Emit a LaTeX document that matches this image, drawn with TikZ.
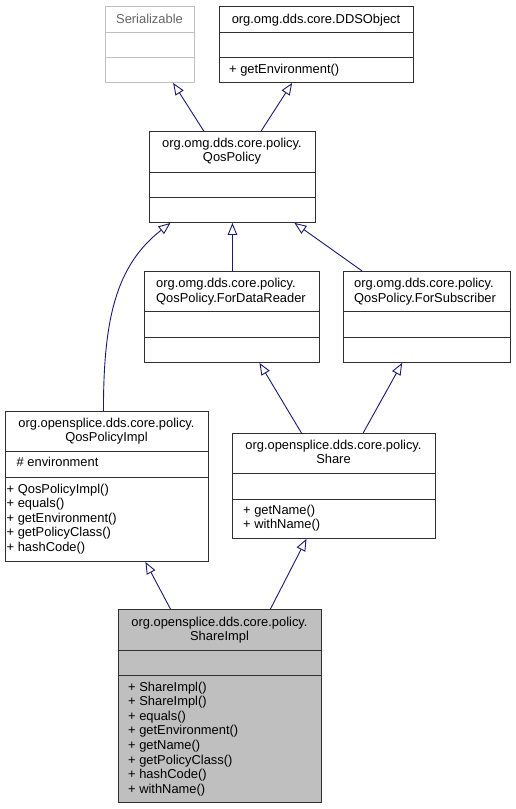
\documentclass[tikz,border=0pt]{standalone}
\usepackage{fontspec}
\setmainfont{Liberation Sans}
\usetikzlibrary{arrows.meta}
\definecolor{arrowblue}{HTML}{191970}
\definecolor{boxline}{HTML}{303030}
\definecolor{extline}{HTML}{BFBFBF}
\definecolor{exttext}{HTML}{666666}
\definecolor{focusfill}{HTML}{BFBFBF}
\newcommand{\dxfont}{\fontsize{12.9}{14.6}\selectfont}
\begin{document}
\begin{tikzpicture}[x=1pt,y=-1pt,
  box/.style={draw=boxline, line width=0.9pt, fill=white, inner sep=0pt, anchor=north west},
  extbox/.style={box, draw=extline},
  focus/.style={box, fill=focusfill},
  divider/.style={draw=boxline, line width=0.9pt},
  extdivider/.style={draw=extline, line width=0.9pt},
  txt/.style={inner sep=0pt, font=\dxfont, anchor=base},
  txl/.style={inner sep=0pt, font=\dxfont, anchor=base west},
  inh/.style={draw=arrowblue, line width=0.9pt, -{Triangle[open, length=12pt, width=9.5pt]}}
]
\fill[white] (0,0) rectangle (515,809);
\useasboundingbox (0,0) rectangle (515,809);

% ---------- Serializable ----------
\node[extbox, minimum width=89pt, minimum height=76pt] (ser) at (105,6) {};
\draw[extdivider] (ser.west |- 0,32) -- (ser.east |- 0,32);
\draw[extdivider] (ser.west |- 0,57) -- (ser.east |- 0,57);
\node[txt, text=exttext] (sert) at (149.5,23) {Serializable};

% ---------- DDSObject ----------
\node[box, minimum width=194pt, minimum height=76pt] (dds) at (219,6) {};
\draw[divider] (dds.west |- 0,32) -- (dds.east |- 0,32);
\draw[divider] (dds.west |- 0,57) -- (dds.east |- 0,57);
\node[txt] (ddst) at (316,23) {org.omg.dds.core.DDSObject};
\node[txl] (ddsm1) at (229,73) {+ getEnvironment()};

% ---------- QosPolicy ----------
\node[box, minimum width=166pt, minimum height=91pt] (qp) at (149,131) {};
\draw[divider] (qp.west |- 0,172) -- (qp.east |- 0,172);
\draw[divider] (qp.west |- 0,197) -- (qp.east |- 0,197);
\node[txt] (qpt1) at (232,147) {org.omg.dds.core.policy.};
\node[txt] (qpt2) at (232,161) {QosPolicy};

% ---------- ForDataReader ----------
\node[box, minimum width=175pt, minimum height=91pt] (fdr) at (144,271) {};
\draw[divider] (fdr.west |- 0,311) -- (fdr.east |- 0,311);
\draw[divider] (fdr.west |- 0,337) -- (fdr.east |- 0,337);
\node[txl] (fdrt1) at (156,287) {org.omg.dds.core.policy.};
\node[txl] (fdrt2) at (156,302) {QosPolicy.ForDataReader};

% ---------- ForSubscriber ----------
\node[box, minimum width=167pt, minimum height=91pt] (fsub) at (343,271) {};
\draw[divider] (fsub.west |- 0,311) -- (fsub.east |- 0,311);
\draw[divider] (fsub.west |- 0,337) -- (fsub.east |- 0,337);
\node[txl] (fsubt1) at (354,287) {org.omg.dds.core.policy.};
\node[txl] (fsubt2) at (354,302) {QosPolicy.ForSubscriber};

% ---------- QosPolicyImpl ----------
\node[box, minimum width=203pt, minimum height=150pt] (qpi) at (5,411) {};
\draw[divider] (qpi.west |- 0,451) -- (qpi.east |- 0,451);
\draw[divider] (qpi.west |- 0,477) -- (qpi.east |- 0,477);
\node[txt] (qpit1) at (106.5,427) {org.opensplice.dds.core.policy.};
\node[txt] (qpit2) at (106.5,441) {QosPolicyImpl};
\node[txl] (qpia1) at (16.5,466) {\# environment};
\node[txl] (qpim1) at (6.5,493) {+ QosPolicyImpl()};
\node[txl] (qpim2) at (6.5,507.5) {+ equals()};
\node[txl] (qpim3) at (6.5,522) {+ getEnvironment()};
\node[txl] (qpim4) at (6.5,536.5) {+ getPolicyClass()};
\node[txl] (qpim5) at (6.5,551) {+ hashCode()};

% ---------- Share ----------
\node[box, minimum width=203pt, minimum height=105pt] (share) at (232,433) {};
\draw[divider] (share.west |- 0,473) -- (share.east |- 0,473);
\draw[divider] (share.west |- 0,499) -- (share.east |- 0,499);
\node[txt] (sharet1) at (333.5,449) {org.opensplice.dds.core.policy.};
\node[txt] (sharet2) at (333.5,463) {Share};
\node[txl] (sharem1) at (243,514) {+ getName()};
\node[txl] (sharem2) at (243,528.5) {+ withName()};

% ---------- ShareImpl ----------
\node[focus, minimum width=203pt, minimum height=193pt] (si) at (118,609) {};
\draw[divider] (si.west |- 0,650) -- (si.east |- 0,650);
\draw[divider] (si.west |- 0,675) -- (si.east |- 0,675);
\node[txt] (sit1) at (219.5,626) {org.opensplice.dds.core.policy.};
\node[txt] (sit2) at (219.5,640) {ShareImpl};
\node[txl] (sim1) at (128,691) {+ ShareImpl()};
\node[txl] (sim2) at (128,705.6) {+ ShareImpl()};
\node[txl] (sim3) at (128,720.2) {+ equals()};
\node[txl] (sim4) at (128,734.8) {+ getEnvironment()};
\node[txl] (sim5) at (128,749.4) {+ getName()};
\node[txl] (sim6) at (128,764) {+ getPolicyClass()};
\node[txl] (sim7) at (128,778.6) {+ hashCode()};
\node[txl] (sim8) at (128,793.2) {+ withName()};

% ---------- inheritance connectors ----------
\draw[inh] ([xshift=-28.7pt]qp.north) -- ([xshift=23.2pt]ser.south);
\draw[inh] ([xshift=28.7pt]qp.north) -- ([xshift=-24.3pt]dds.south);
\draw[inh] ([xshift=0.5pt]fdr.north) -- (qp.south);
\draw[inh] ([xshift=-64.8pt]fsub.north) -- ([xshift=62pt]qp.south);
\draw[inh] ([xshift=-3.5pt]qpi.north) .. controls +(0,-91) and +(-55,43) .. ([xshift=-62pt]qp.south);
\draw[inh] ([xshift=-32.5pt]share.north) -- ([xshift=27.5pt]fdr.south);
\draw[inh] ([xshift=29.2pt]share.north) -- ([xshift=-24.8pt]fsub.south);
\draw[inh] ([xshift=-49.5pt]si.north) -- ([xshift=38.5pt]qpi.south);
\draw[inh] ([xshift=50.5pt]si.north) -- ([xshift=-27.5pt]share.south);
\end{tikzpicture}
\end{document}
